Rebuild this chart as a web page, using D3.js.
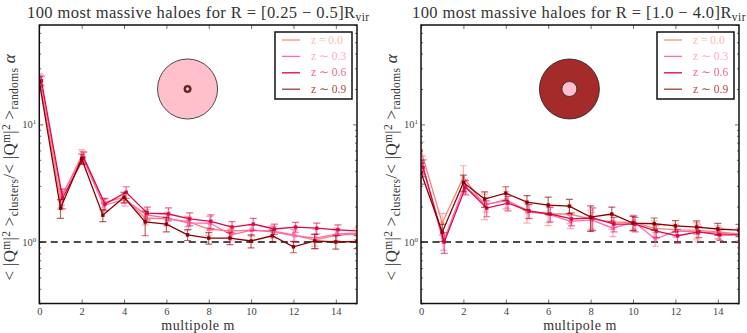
<!DOCTYPE html>
<html>
<head>
<meta charset="utf-8">
<script src="https://cdn.jsdelivr.net/npm/d3@7"></script>
<style>
  html, body { margin: 0; padding: 0; background: #fff; }
  svg { display: block; }
  text { font-family: "Liberation Serif", serif; fill: #333; }
</style>
</head>
<body>
<div id="chart"></div>
<script>
// Data
const multipoles = [0, 1, 2, 3, 4, 5, 6, 7, 8, 9, 10, 11, 12, 13, 14, 15];
const xTickValues = [0, 2, 4, 6, 8, 10, 12, 14];
const redshiftLabels = ["z = 0.0", "z ∼ 0.3", "z ∼ 0.6", "z ∼ 0.9"];
const seriesOffsets = [0, 0.05, 0.1, 0];

// Left panel, R = [0.25 - 0.5]
const innerZ00 = [24.5, 2.3, 5.4, 2.15, 2.4, 1.6, 1.57, 1.5, 1.29, 1.24, 1.26, 1.24, 1.15, 1.04, 1.14, 1.17];
const innerZ03 = [24, 2.45, 5.3, 2.05, 2.3, 1.7, 1.6, 1.45, 1.45, 1.15, 1.26, 1.22, 1.13, 1.08, 1.17, 1.19];
const innerZ06 = [23.5, 2.36, 5.2, 2.1, 2.65, 1.76, 1.73, 1.57, 1.5, 1.34, 1.42, 1.29, 1.34, 1.31, 1.27, 1.24];
const innerZ09 = [23, 1.94, 5.1, 1.69, 2.4, 1.48, 1.42, 1.15, 1.08, 1.08, 1.02, 1.13, 0.91, 1.02, 1.0, 1.01];
const innerErrZ00 = [2.5, 0.4, 0.7, 0.2, 0.25, 0.2, 0.2, 0.15, 0.15, 0.14, 0.14, 0.13, 0.13, 0.12, 0.12, 0.12];
const innerErrZ03 = [2.2, 0.4, 0.6, 0.25, 0.28, 0.2, 0.2, 0.17, 0.2, 0.13, 0.13, 0.14, 0.14, 0.2, 0.14, 0.14];
const innerErrZ06 = [2.2, 0.45, 0.6, 0.25, 0.3, 0.22, 0.22, 0.2, 0.2, 0.15, 0.17, 0.13, 0.13, 0.14, 0.13, 0.13];
const innerErrZ09 = [2.2, 0.35, 0.5, 0.2, 0.25, 0.35, 0.2, 0.12, 0.12, 0.13, 0.13, 0.13, 0.1, 0.14, 0.13, 0.13];

// Right panel, R = [1.0 - 4.0]
const outerZ00 = [6.0, 1.45, 3.55, 2.05, 2.3, 1.8, 1.73, 1.73, 1.57, 1.48, 1.47, 1.31, 1.27, 1.26, 1.22, 1.17];
const outerZ03 = [4.6, 1.0, 3.0, 2.1, 2.24, 1.85, 1.72, 1.5, 1.54, 1.31, 1.48, 1.06, 1.24, 1.22, 1.19, 1.15];
const outerZ06 = [4.3, 1.0, 2.92, 1.94, 2.14, 1.83, 1.73, 1.57, 1.6, 1.42, 1.42, 1.24, 1.13, 1.22, 1.15, 1.15];
const outerZ09 = [3.9, 1.21, 3.2, 2.32, 2.6, 2.18, 2.06, 2.02, 1.63, 1.73, 1.45, 1.43, 1.37, 1.34, 1.29, 1.26];
const outerErrZ00 = [1.1, 0.3, 0.9, 0.5, 0.4, 0.35, 0.35, 0.3, 0.3, 0.2, 0.22, 0.2, 0.15, 0.2, 0.15, 0.15];
const outerErrZ03 = [0.8, 0.15, 0.4, 0.3, 0.3, 0.25, 0.25, 0.2, 0.25, 0.2, 0.2, 0.14, 0.14, 0.2, 0.14, 0.14];
const outerErrZ06 = [0.7, 0.2, 0.4, 0.3, 0.3, 0.25, 0.25, 0.2, 0.35, 0.2, 0.2, 0.15, 0.15, 0.13, 0.12, 0.12];
const outerErrZ09 = [0.8, 0.2, 0.5, 0.35, 0.35, 0.3, 0.35, 0.28, 0.4, 0.25, 0.2, 0.17, 0.15, 0.17, 0.15, 0.15];

// Colors per redshift
const colors = ["#fa8072", "#ff69b4", "#dc0a46", "#8b0000"];
const legendTextColors = ["#fdbdb4", "#ffa8d4", "#e96a8e", "#b04a4a"];
const legendLineColors = ["#fb8f82", "#ff69b4", "#e6003c", "#a83a3a"];

const width = 747;
const height = 333;
const axTop = 25;
const axBottom = 303.5;

const svg = d3.select("#chart")
  .append("svg")
  .attr("width", width)
  .attr("height", height);

const y = d3.scaleLog().domain([0.3, 70]).range([axBottom, axTop]);
const minorTicks = [0.3, 0.4, 0.5, 0.6, 0.7, 0.8, 0.9, 2, 3, 4, 5, 6, 7, 8, 9, 20, 30, 40, 50, 60, 70];
const majorTicks = [1, 10];

function drawPanel(cfg) {
  const x = d3.scaleLinear().domain([0, 15]).range([cfg.left, cfg.right]);
  const g = svg.append("g");

  g.append("clipPath").attr("id", cfg.id)
    .append("rect")
    .attr("x", cfg.left).attr("y", axTop)
    .attr("width", cfg.right - cfg.left).attr("height", axBottom - axTop);

  // Dashed line at 1
  g.append("line")
    .attr("x1", cfg.left).attr("x2", cfg.right)
    .attr("y1", y(1)).attr("y2", y(1))
    .attr("stroke", "#111")
    .attr("stroke-width", 1.3)
    .attr("stroke-dasharray", "7,4.5");

  const plot = g.append("g").attr("clip-path", `url(#${cfg.id})`);
  const line = d3.line().x(d => x(d.m)).y(d => y(d.v));

  cfg.series.forEach((values, i) => {
    const pts = multipoles.map((m, j) => ({
      m: m + seriesOffsets[i],
      v: values[j],
      e: cfg.errors[i][j]
    }));
    const s = plot.append("g");

    const bars = s.selectAll(".err").data(pts).enter().append("g")
      .attr("stroke", colors[i])
      .attr("stroke-opacity", 0.6)
      .attr("stroke-width", 1.2);
    bars.append("line")
      .attr("x1", d => x(d.m)).attr("x2", d => x(d.m))
      .attr("y1", d => y(d.v - d.e)).attr("y2", d => y(d.v + d.e));
    bars.append("line")
      .attr("x1", d => x(d.m) - 3.5).attr("x2", d => x(d.m) + 3.5)
      .attr("y1", d => y(d.v - d.e)).attr("y2", d => y(d.v - d.e));
    bars.append("line")
      .attr("x1", d => x(d.m) - 3.5).attr("x2", d => x(d.m) + 3.5)
      .attr("y1", d => y(d.v + d.e)).attr("y2", d => y(d.v + d.e));

    s.append("path")
      .datum(pts)
      .attr("fill", "none")
      .attr("stroke", colors[i])
      .attr("stroke-width", 1.3)
      .attr("d", line);

    s.selectAll(".mark").data(pts).enter().append("rect")
      .attr("x", d => x(d.m) - 1.7).attr("y", d => y(d.v) - 1.7)
      .attr("width", 3.4).attr("height", 3.4)
      .attr("fill", colors[i]);
  });

  // Annulus sketch, centred on m = 7, y = 20
  const cx = x(7), cy = y(20);
  cfg.rings.forEach(r => {
    g.append("circle")
      .attr("cx", cx).attr("cy", cy).attr("r", r.r)
      .attr("fill", r.fill)
      .attr("stroke", "#222")
      .attr("stroke-width", r.r > 4 ? 0.8 : 0.5);
  });

  // Ticks on all four sides, pointing inward
  const tickStyle = sel => {
    sel.select(".domain").remove();
    sel.selectAll("line").attr("stroke", "#333").attr("stroke-width", 0.7);
    sel.selectAll("text")
      .style("font-family", '"Liberation Serif", serif')
      .style("font-size", "10.5px")
      .style("fill", "#444");
  };
  const bottomAxis = d3.axisBottom(x).tickValues(xTickValues).tickFormat(d3.format("d")).tickSize(-4).tickPadding(4);
  const topAxis = d3.axisTop(x).tickValues(xTickValues).tickFormat("").tickSize(-4);
  g.append("g").attr("transform", `translate(0,${axBottom})`).call(bottomAxis).call(tickStyle);
  g.append("g").attr("transform", `translate(0,${axTop})`).call(topAxis).call(tickStyle);

  [[d3.axisLeft, cfg.left], [d3.axisRight, cfg.right]].forEach(([axis, pos]) => {
    g.append("g").attr("transform", `translate(${pos},0)`)
      .call(axis(y).tickValues(minorTicks).tickFormat("").tickSize(-2))
      .call(tickStyle);
    g.append("g").attr("transform", `translate(${pos},0)`)
      .call(axis(y).tickValues(majorTicks).tickFormat("").tickSize(-4))
      .call(tickStyle);
  });

  // Frame
  g.append("rect")
    .attr("x", cfg.left).attr("y", axTop)
    .attr("width", cfg.right - cfg.left).attr("height", axBottom - axTop)
    .attr("fill", "none")
    .attr("stroke", "#111")
    .attr("stroke-width", 1.5);

  // 10^n labels
  majorTicks.forEach((t, i) => {
    const lab = g.append("text")
      .attr("x", cfg.left - 3)
      .attr("y", y(t) + 4)
      .attr("text-anchor", "end")
      .style("fill", "#444")
      .style("font-size", "10.5px");
    lab.append("tspan").text("10");
    lab.append("tspan").attr("dy", -4).style("font-size", "7px").text(i);
  });

  // Title
  const title = g.append("text")
    .attr("x", cfg.titleX)
    .attr("y", 18)
    .style("font-size", "16.5px")
    .style("letter-spacing", "0.42px");
  title.append("tspan").text(cfg.title);
  title.append("tspan").attr("dy", 3).style("font-size", "11.5px").text("vir");

  // Axis labels
  g.append("text")
    .attr("x", (cfg.left + cfg.right) / 2)
    .attr("y", 330)
    .attr("text-anchor", "middle")
    .style("font-size", "14px")
    .style("letter-spacing", "0.5px")
    .text("multipole m");

  const yLab = g.append("text")
    .attr("transform", `translate(${cfg.left - 24.5},${(axTop + axBottom) / 2 + 3}) rotate(-90)`)
    .attr("text-anchor", "middle")
    .style("font-size", "17px")
    .style("letter-spacing", "0.3px");
  const small = (s, dy) => yLab.append("tspan").attr("dy", dy).style("font-size", "11.5px").text(s);
  yLab.append("tspan").text("< |Q");
  small("m", -5);
  yLab.append("tspan").attr("dy", 5).text("|");
  small("2", -5);
  yLab.append("tspan").attr("dy", 5).text(" >");
  small("clusters", 3);
  yLab.append("tspan").attr("dy", -3).text("/< |Q");
  small("m", -5);
  yLab.append("tspan").attr("dy", 5).text("|");
  small("2", -5);
  yLab.append("tspan").attr("dy", 5).text(" >");
  small("randoms", 3);
  yLab.append("tspan").attr("dy", -3).style("font-style", "italic").text(" α");

  // Legend
  const boxRight = cfg.right - 5;
  const boxLeft = boxRight - 77;
  g.append("rect")
    .attr("x", boxLeft).attr("y", 32)
    .attr("width", 77).attr("height", 67)
    .attr("fill", "#fff")
    .attr("stroke", "#111")
    .attr("stroke-width", 1.5);
  redshiftLabels.forEach((label, i) => {
    const ly = 40 + i * 16.4;
    g.append("line")
      .attr("x1", boxLeft + 7).attr("x2", boxLeft + 25)
      .attr("y1", ly).attr("y2", ly)
      .attr("stroke", legendLineColors[i])
      .attr("stroke-width", 1.3);
    g.append("text")
      .attr("x", boxLeft + 36)
      .attr("y", ly + 3.5)
      .style("fill", legendTextColors[i])
      .style("font-size", "11.5px")
      .text(label);
  });
}

drawPanel({
  id: "clip-inner",
  left: 39.3,
  right: 357,
  titleX: 27,
  title: "100 most massive haloes for R = [0.25 − 0.5]R",
  series: [innerZ00, innerZ03, innerZ06, innerZ09],
  errors: [innerErrZ00, innerErrZ03, innerErrZ06, innerErrZ09],
  rings: [
    { r: 30, fill: "#ffc0cb" },
    { r: 3.75, fill: "#7a1a1a" },
    { r: 1.9, fill: "#ffc0cb" }
  ]
});

drawPanel({
  id: "clip-outer",
  left: 421,
  right: 739,
  titleX: 412,
  title: "100 most massive haloes for R = [1.0 − 4.0]R",
  series: [outerZ00, outerZ03, outerZ06, outerZ09],
  errors: [outerErrZ00, outerErrZ03, outerErrZ06, outerErrZ09],
  rings: [
    { r: 30, fill: "#a52a2a" },
    { r: 7.5, fill: "#ffc0cb" }
  ]
});
</script>
</body>
</html>
